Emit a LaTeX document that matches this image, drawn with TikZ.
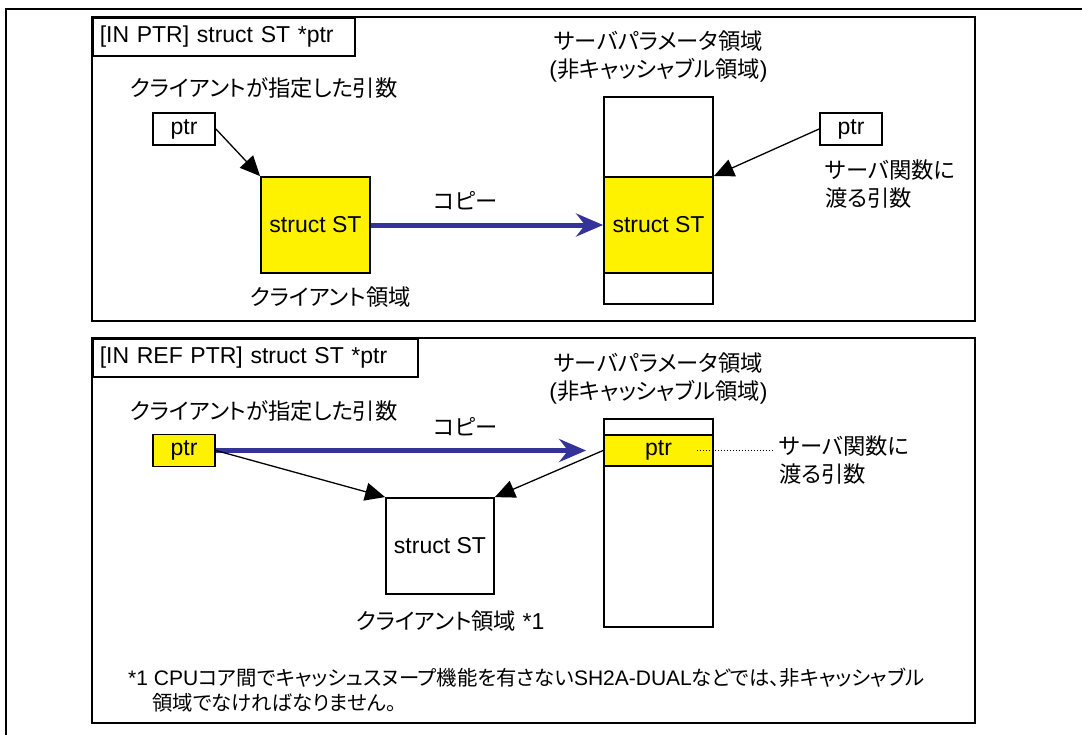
\documentclass[tikz,border=0pt]{standalone}
\usepackage{fontspec}
\setmainfont{Liberation Sans}
\newfontfamily\jpfont{Noto Sans CJK JP}[Scale=0.97, RawFeature=+palt]
\usetikzlibrary{arrows.meta, positioning}
\definecolor{copyblue}{RGB}{51,51,153}
\tikzset{
    panel/.style={draw, line width=1.5pt},
    tagbox/.style={draw, line width=1.5pt, anchor=north west, inner xsep=7pt, inner ysep=0pt, minimum height=38pt, align=left},
    cell/.style={rectangle, draw, line width=1.8pt, inner sep=0pt, align=center},
    txt/.style={inner sep=0pt, text height=16pt, text depth=4pt},
    ptrarrow/.style={line width=1.3pt, -{Triangle[length=20pt, width=18pt]}},
    copyarrow/.style={copyblue, line width=5pt, -{Stealth[length=27pt, width=23pt, inset=9pt]}},
    dotline/.style={line width=1pt, dotted}
}
\begin{document}
\begin{tikzpicture}[x=1pt, y=-1pt, font=\fontsize{23}{28}\selectfont]
\useasboundingbox (0,0) rectangle (1082,734);

% outer border
\draw[line width=2pt] (6,745) -- (6,9) -- (1090,9);

% Upper panel: IN PTR
\draw[panel] (92,17) rectangle (975,321);
\node[tagbox, text width=248pt] (tag1) at (92,17) {[IN PTR] struct ST *ptr};

\node[txt] (cargs1) at (264,90) {\jpfont クライアントが指定した引数};
\node[cell, minimum width=62pt, minimum height=32pt] (cptr1) at (184,129) {ptr};
\node[cell, fill=yellow, minimum width=109pt, minimum height=96pt] (cst1) at (315.5,225) {struct ST};
\node[txt] (carea1) [below=15pt of cst1, xshift=15pt] {\jpfont クライアント領域};

\node[cell, minimum width=109pt, minimum height=207pt] (scol1) at (658.5,200.5) {};
\node[cell, fill=yellow, minimum width=109pt, minimum height=96pt] (sst1) at (658.5,225) {struct ST};
\node[align=center, inner sep=0pt] (sarea1) [above=14pt of scol1] {{\jpfont サーバパラメータ領域}\\({\jpfont 非キャッシャブル領域})};
\node[cell, minimum width=62pt, minimum height=32pt] (sptr1) at (851,129) {ptr};
\node[align=left, inner sep=0pt] (sargs1) [below=14pt of sptr1.south west, anchor=north west, xshift=6pt] {\jpfont サーバ関数に\\\jpfont 渡る引数};

\node[txt] (copy1) at (466,203) {\jpfont コピー};
\draw[ptrarrow] (cptr1.east) -- (cst1.north west);
\draw[ptrarrow] (sptr1.west) -- (sst1.north east);
\draw[copyarrow] (cst1.east) -- (sst1.west);

% Lower panel: IN REF PTR
\draw[panel] (92,338) rectangle (975,723);
\node[tagbox, text width=311pt] (tag2) at (92,338) {[IN REF PTR] struct ST *ptr};

\node[txt] (cargs2) at (264,413) {\jpfont クライアントが指定した引数};
\node[cell, fill=yellow, minimum width=62pt, minimum height=32pt] (cptr2) at (184,450.5) {ptr};
\node[cell, minimum width=108pt, minimum height=96pt] (cst2) at (440,546) {struct ST};
\node[txt] (carea2) [below=18pt of cst2, xshift=10pt] {{\jpfont クライアント領域} *1};

\node[cell, minimum width=109pt, minimum height=208pt] (scol2) at (658.5,523) {};
\node[cell, fill=yellow, minimum width=109pt, minimum height=31pt] (sptr2) at (658.5,450.5) {ptr};
\node[align=center, inner sep=0pt] (sarea2) [above=14pt of scol2] {{\jpfont サーバパラメータ領域}\\({\jpfont 非キャッシャブル領域})};
\node[align=left, inner sep=0pt, anchor=west] (sargs2) at (779,460) {\jpfont サーバ関数に\\\jpfont 渡る引数};

\node[txt] (copy2) at (466,429) {\jpfont コピー};
\draw[copyarrow, shorten >=17pt] (cptr2.east) -- (sptr2.west);
\draw[ptrarrow] (cptr2.east) -- (cst2.north west);
\draw[ptrarrow] (sptr2.west) -- (cst2.north east);
\draw[dotline] ([xshift=38pt]sptr2.center) -- ([xshift=-7pt]sargs2.west |- sptr2.center);

\node[align=left, inner sep=0pt, anchor=north west, font=\fontsize{21}{25}\selectfont] (note2) at (128,668) {*1 CPU{\jpfont コア間でキャッシュスヌープ機能を有さない}SH2A-DUAL{\jpfont などでは、非キャッシャブル}\\\hspace*{24pt}{\jpfont 領域でなければなりません。}};

\end{tikzpicture}
\end{document}
